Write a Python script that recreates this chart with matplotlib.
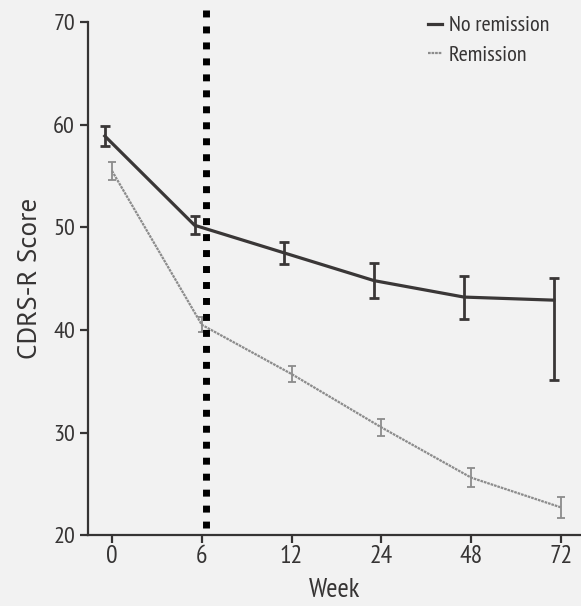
import matplotlib
matplotlib.use("Agg")
import matplotlib.pyplot as plt
from matplotlib.lines import Line2D
import numpy as np

# Study visits (weeks) shown as equally spaced categories
weeks = ["0", "6", "12", "24", "48", "72"]

# Mean CDRS-R score with error bars
no_remission = [58.9, 50.2, 47.5, 44.8, 43.2, 42.9]
no_remission_err_low = [1.0, 0.9, 1.1, 1.7, 2.1, 7.8]
no_remission_err_high = [1.0, 0.9, 1.1, 1.7, 2.1, 2.2]

remission = [55.5, 40.5, 35.7, 30.5, 25.6, 22.7]
remission_err = [0.9, 0.75, 0.8, 0.85, 0.95, 1.0]

# Week at which remission status was assessed
cutoff_week = 6

narrow = ["PT Sans Narrow", "PT Sans", "DejaVu Sans"]
regular = ["PT Sans", "DejaVu Sans"]
plt.rcParams["font.family"] = narrow

bg = "#f2f2f2"
ink = "#363434"
dark_line = "#3a3737"
light_line = "#8c8c8c"

fig = plt.figure(figsize=(5.81, 6.06), dpi=100, facecolor=bg)
ax = fig.add_axes([0.1515, 0.117, 0.8485, 0.8465], facecolor=bg)

x = np.arange(len(weeks))
dodge = 0.08

ax.errorbar(x - dodge, no_remission,
            yerr=[no_remission_err_low, no_remission_err_high],
            color=dark_line, lw=2.3, elinewidth=2.0, capsize=3.4, capthick=2.0,
            zorder=3)
ax.errorbar(x, remission, yerr=remission_err,
            color=light_line, lw=1.6, elinewidth=1.3, capsize=2.8, capthick=1.3,
            ls=(0, (1.2, 0.4)), zorder=3)

# Dotted marker at the remission assessment week, drawn top-down
xc = weeks.index(str(cutoff_week)) + 0.047
ax.plot([xc, xc], [71.17, 20.68], color="black", lw=5.0,
        ls=(0, (1.0, 1.3)), solid_capstyle="butt", dash_capstyle="butt",
        clip_on=False, zorder=4)

ax.set_xlim(-0.267, 5.223)
ax.set_ylim(20, 70)
ax.set_xticks(x)
ax.set_xticklabels(weeks)
ax.set_yticks([20, 30, 40, 50, 60, 70])

for side in ("top", "right"):
    ax.spines[side].set_visible(False)
for side in ("left", "bottom"):
    ax.spines[side].set_color(ink)
    ax.spines[side].set_linewidth(1.6)

ax.tick_params(axis="both", colors=ink, width=1.6, length=5.8,
               labelcolor=ink)
ax.tick_params(axis="y", labelsize=17.5, pad=3.5)
ax.tick_params(axis="x", labelsize=18.5, pad=1.5)

ax.set_xlabel("Week", fontsize=19.5, color=ink, labelpad=7)
ax.set_ylabel("CDRS-R Score", fontsize=19.5, color=ink, labelpad=8,
              family=regular)

handles = [Line2D([], [], color=dark_line, lw=2.3),
           Line2D([], [], color=light_line, lw=1.6, ls=(0, (1.2, 0.4)))]
leg = fig.legend(handles, ["No remission", "Remission"],
                 loc="upper left", bbox_to_anchor=(0.736, 0.974),
                 frameon=False, fontsize=16, handlelength=0.65,
                 handletextpad=0.3, labelspacing=0.45, borderpad=0,
                 borderaxespad=0)
for t in leg.get_texts():
    t.set_color(ink)

fig.savefig("out.png", dpi=100, facecolor=bg)
